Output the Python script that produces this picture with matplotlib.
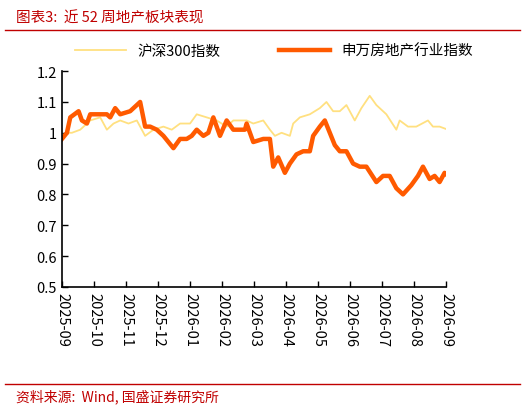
import numpy as np
import matplotlib.pyplot as plt
from matplotlib.lines import Line2D

plt.rcParams['font.family'] = ['Noto Sans CJK SC', 'DejaVu Sans']

tick_labels = ['2025-09', '2025-10', '2025-11', '2025-12', '2026-01', '2026-02', '2026-03',
               '2026-04', '2026-05', '2026-06', '2026-07', '2026-08', '2026-09']

prop_x = [185, 200, 210, 235, 245, 260, 270, 320, 330, 345, 360, 390, 420, 435, 450, 470, 490,
          505, 520, 540, 560, 575, 590, 610, 625, 640, 660, 680, 700, 735, 740, 760, 790, 810,
          820, 835, 855, 870, 890, 910, 930, 940, 960, 975, 990, 1005, 1020, 1040, 1060, 1080,
          1100, 1130, 1150, 1170, 1190, 1210, 1235, 1255, 1270, 1290, 1305, 1320, 1335, 1345]
prop_v = [0.98, 1.00, 1.05, 1.07, 1.04, 1.03, 1.06, 1.06, 1.05, 1.08, 1.06, 1.07, 1.10, 1.02,
          1.02, 1.01, 0.99, 0.97, 0.95, 0.98, 0.98, 0.99, 1.01, 0.99, 1.00, 1.05, 0.99, 1.04,
          1.01, 1.01, 1.03, 0.97, 0.98, 0.98, 0.89, 0.92, 0.87, 0.90, 0.93, 0.94, 0.94, 0.99,
          1.02, 1.04, 1.00, 0.96, 0.94, 0.94, 0.90, 0.89, 0.89, 0.84, 0.86, 0.86, 0.82, 0.80,
          0.83, 0.86, 0.89, 0.85, 0.86, 0.84, 0.87, 0.86]

hs_x = [185, 200, 215, 240, 270, 300, 320, 340, 360, 385, 410, 435, 460, 490, 515, 540, 570,
        590, 620, 650, 680, 700, 740, 760, 790, 810, 825, 845, 870, 880, 900, 930, 960, 980,
        1000, 1020, 1040, 1065, 1085, 1110, 1130, 1160, 1190, 1200, 1225, 1250, 1285, 1300,
        1320, 1345]
hs_v = [0.99, 1.00, 1.00, 1.01, 1.04, 1.05, 1.01, 1.03, 1.04, 1.03, 1.04, 0.99, 1.01, 1.02,
        1.01, 1.03, 1.03, 1.06, 1.05, 1.04, 1.02, 1.04, 1.04, 1.03, 1.04, 1.01, 0.99, 1.00,
        0.99, 1.03, 1.05, 1.06, 1.08, 1.10, 1.07, 1.07, 1.09, 1.04, 1.08, 1.12, 1.09, 1.06,
        1.01, 1.04, 1.02, 1.02, 1.04, 1.02, 1.02, 1.01]

to_month = lambda xs: (np.array(xs) - 185) / 96.25

fig = plt.figure(figsize=(5.25, 4.1), dpi=100)
ax = fig.add_axes([0.118, 0.298, 0.732, 0.526])

ax.plot(to_month(hs_x), hs_v, color='#FFE080', lw=1.3, label='沪深300指数')
ax.plot(to_month(prop_x), prop_v, color='#FF5A00', lw=3.2, label='申万房地产行业指数')

ax.set_xlim(0, 12)
ax.set_ylim(0.5, 1.2)
ax.set_xticks(range(13))
ax.set_xticklabels(tick_labels, rotation=270, fontsize=10.5)
ax.set_yticks([0.5, 0.6, 0.7, 0.8, 0.9, 1.0, 1.1, 1.2])
ax.set_yticklabels(['0.5', '0.6', '0.7', '0.8', '0.9', '1', '1.1', '1.2'], fontsize=10.5)
ax.tick_params(direction='in', length=4, width=1)
for s in ['top', 'right']:
    ax.spines[s].set_visible(False)
for s in ['left', 'bottom']:
    ax.spines[s].set_linewidth(1.2)

ax.legend(loc='lower left', bbox_to_anchor=(0.0, 1.0), ncol=2, frameon=False,
          fontsize=10.5, handlelength=3.5, columnspacing=4)

red = '#C00000'
fig.text(0.03, 0.955, '图表3:  近 52 周地产板块表现', color=red, fontsize=10.5,
         style='italic', va='center')
fig.add_artist(Line2D([0.01, 0.99], [0.925, 0.925], color=red, lw=1))
fig.add_artist(Line2D([0.01, 0.99], [0.06, 0.06], color=red, lw=1))
fig.text(0.03, 0.032, '资料来源:  Wind, 国盛证券研究所', color=red, fontsize=10,
         style='italic', va='center')

fig.savefig('out.png', dpi=100)
